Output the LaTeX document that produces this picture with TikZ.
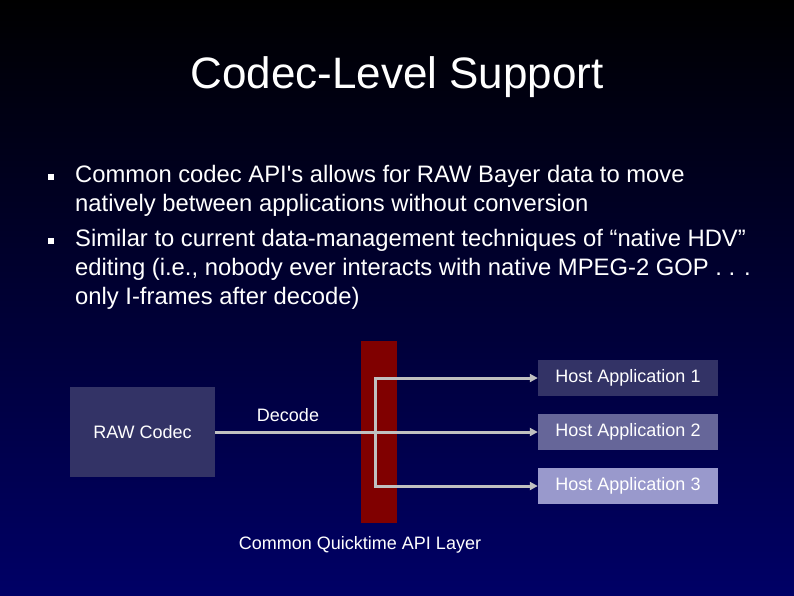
\documentclass[tikz,border=0pt]{standalone}
\usepackage{fontspec}
\setmainfont{Liberation Sans}
\usetikzlibrary{arrows.meta}
\definecolor{slidetop}{RGB}{0,0,0}
\definecolor{slidebottom}{RGB}{0,0,102}
\definecolor{hostdark}{RGB}{51,51,102}
\definecolor{hostmid}{RGB}{102,102,153}
\definecolor{hostlight}{RGB}{153,153,204}
\definecolor{layerred}{RGB}{128,0,0}
\definecolor{wiregray}{RGB}{192,192,192}

\begin{document}
\begin{tikzpicture}[
  x=1pt, y=-1pt,
  every node/.style={text=white, inner sep=0pt},
  title/.style={font=\fontsize{44}{48}\selectfont, anchor=base},
  bodytext/.style={font=\fontsize{23.8}{29}\selectfont, anchor=base west},
  bullet/.style={fill=white, minimum size=6pt},
  box/.style={fill=hostdark, font=\fontsize{18}{20}\selectfont},
  host/.style={minimum width=180pt, minimum height=36pt, font=\fontsize{18}{20}\selectfont},
  lbl/.style={font=\fontsize{18}{20}\selectfont, anchor=base},
  wire/.style={draw=wiregray, line width=3pt},
  arrow/.style={wire, -{Triangle[length=8pt, width=8pt]}}
]

  % Sfondo della slide
  \useasboundingbox (0,0) rectangle (794,595);
  \shade[top color=slidetop, bottom color=slidebottom] (0,0) rectangle (794,595);

  % Titolo
  \node[title] (title) at (397,88) {Codec-Level Support};

  % Elenco puntato
  \node[bullet] (dot1) at (51,177) {};
  \node[bodytext] (l1) at (75,182) {Common codec API\textquotesingle s allows for RAW Bayer data to move};
  \node[bodytext] (l2) at (75,211) {natively between applications without conversion};
  \node[bullet] (dot2) at (51,241) {};
  \node[bodytext] (l3) at (75,246) {Similar to current data-management techniques of “native HDV”};
  \node[bodytext] (l4) at (75,275) {editing (i.e., nobody ever interacts with native MPEG-2 GOP . . .};
  \node[bodytext] (l5) at (75,304) {only I-frames after decode)};

  % Livello API e blocchi
  \node[fill=layerred, minimum width=36pt, minimum height=182pt] (layer) at (379,432) {};
  \node[box, minimum width=145pt, minimum height=90pt] (codec) at (142.5,432) {RAW Codec};
  \node[host, fill=hostdark] (host1) at (628,378) {Host Application 1};
  \node[host, fill=hostmid] (host2) at (628,432) {Host Application 2};
  \node[host, fill=hostlight] (host3) at (628,486) {Host Application 3};
  \coordinate (split) at (375,432);

  % Frecce
  \draw[arrow] (codec.east) -- (host2.west);
  \draw[arrow] (split) |- (host1.west);
  \draw[arrow] (split) |- (host3.west);

  % Etichette
  \node[lbl] (decode) at (288,421) {Decode};
  \node[lbl] (layername) at (360,549) {Common Quicktime API Layer};

\end{tikzpicture}
\end{document}
